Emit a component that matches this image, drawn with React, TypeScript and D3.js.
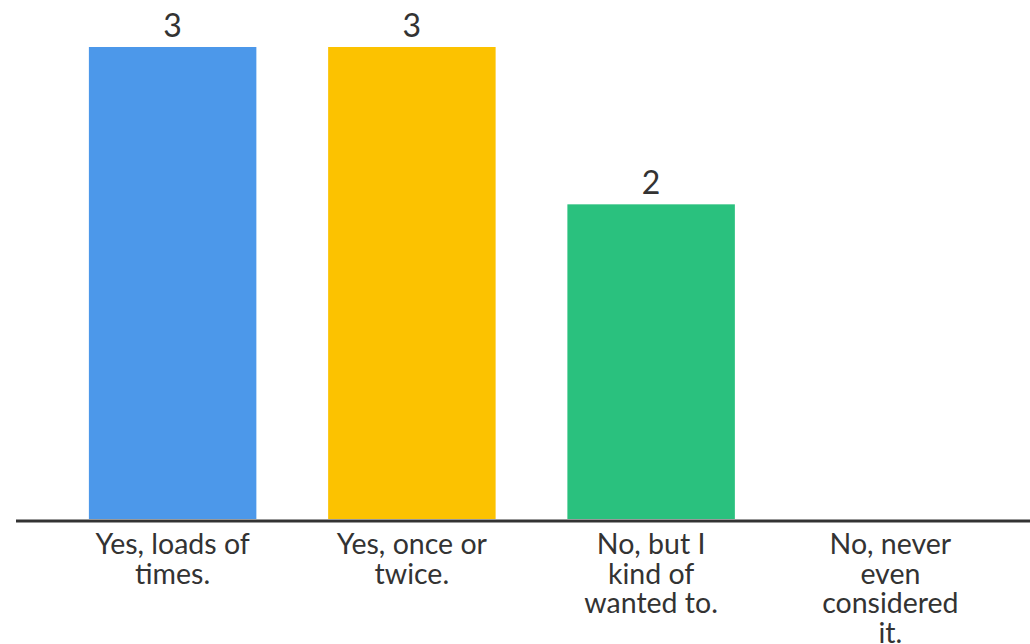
import React from "react";
import * as d3 from "d3";

const categories = [
  "Yes, loads of times.",
  "Yes, once or twice.",
  "No, but I kind of wanted to.",
  "No, never even considered it.",
];
const tickLabelLines = [
  ["Yes, loads of", "times."],
  ["Yes, once or", "twice."],
  ["No, but I", "kind of", "wanted to."],
  ["No, never", "even", "considered", "it."],
];
const values = [3, 3, 2, 0];
const colors = ["#4c98ea", "#fcc200", "#2ac17e", "#e0e0e0"];

const W = 1030;
const H = 644;
const FONT = "Lato, 'Noto Sans', sans-serif";

export default function App() {
  const x = d3
    .scaleBand<string>()
    .domain(categories)
    .range([53, 1010])
    .paddingInner(0.3)
    .paddingOuter(0.15);
  const y = d3.scaleLinear().domain([0, 3]).range([519, 47]);
  const baseY = y(0);

  return (
    <svg
      width={W}
      height={H}
      style={{ position: "absolute", left: 0, top: 0, background: "#fff" }}
    >
      {categories.map((c, i) =>
        values[i] > 0 ? (
          <g key={c}>
            <rect
              x={x(c)!}
              y={y(values[i])}
              width={x.bandwidth()}
              height={baseY - y(values[i])}
              fill={colors[i]}
            />
            <text
              x={x(c)! + x.bandwidth() / 2}
              y={y(values[i]) - 10}
              textAnchor="middle"
              fontFamily={FONT}
              fontSize={32}
              fill="#333"
            >
              {values[i]}
            </text>
          </g>
        ) : null
      )}
      <line x1={16} x2={W} y1={baseY + 2} y2={baseY + 2} stroke="#333" strokeWidth={3} />
      {categories.map((c, i) => (
        <text
          key={c}
          x={x(c)! + x.bandwidth() / 2}
          textAnchor="middle"
          fontFamily={FONT}
          fontSize={28.5}
          fill="#333"
        >
          {tickLabelLines[i].map((ln, j) => (
            <tspan key={j} x={x(c)! + x.bandwidth() / 2} y={554 + j * 29.5}>
              {ln}
            </tspan>
          ))}
        </text>
      ))}
    </svg>
  );
}
